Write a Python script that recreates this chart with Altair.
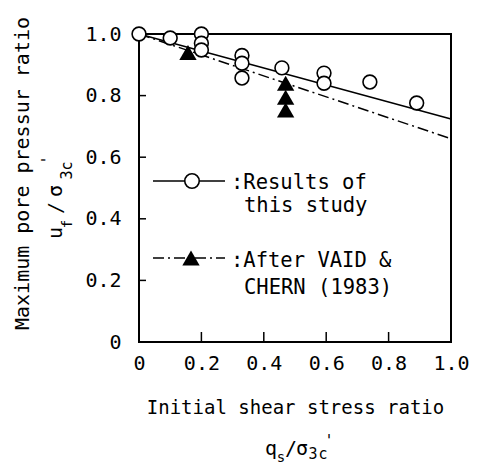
import altair as alt
import pandas as pd

FONT = "DejaVu Sans Mono"

# --- data ---
circle_x = [0.0, 0.1, 0.2, 0.2, 0.2, 0.33, 0.33, 0.33, 0.458, 0.593, 0.593, 0.74, 0.89]
circle_y = [1.0, 0.987, 1.0, 0.97, 0.948, 0.93, 0.905, 0.857, 0.89, 0.873, 0.84, 0.844, 0.776]
tri_x = [0.157, 0.47, 0.47, 0.47]
tri_y = [0.94, 0.84, 0.795, 0.753]
fit_x = [0.0, 1.0]
fit_this_study = [1.0, 0.724]
fit_vaid_chern = [1.0, 0.66]
tick_values = [0.0, 0.2, 0.4, 0.6, 0.8, 1.0]
inner_ticks = [0.2, 0.4, 0.6, 0.8]

W, H = 312, 308
xs = alt.Scale(domain=[0, 1], nice=False, zero=False)
ys = alt.Scale(domain=[0, 1], nice=False, zero=False)
label_expr = "datum.value == 0 ? '0' : format(datum.value, '.1f')"

xaxis = alt.Axis(values=tick_values, labelExpr=label_expr, title="Initial shear stress ratio",
                 ticks=False, domain=False, grid=False, labelPadding=11, labelFontSize=20,
                 labelFont=FONT, labelColor="black", labelFlush=False, labelOverlap=False,
                 titleFont=FONT, titleFontSize=19, titleFontWeight="normal", titleColor="black",
                 titleY=65, titleBaseline="middle")
yaxis = alt.Axis(values=tick_values, labelExpr=label_expr, title="Maximum pore pressur ratio",
                 ticks=False, domain=False, grid=False, labelPadding=18, labelFontSize=20,
                 labelFont=FONT, labelColor="black", labelFlush=False, labelOverlap=False,
                 titleFont=FONT, titleFontSize=20, titleFontWeight="normal", titleColor="black",
                 titleX=-117, titleY=139, titleAngle=270, titleBaseline="middle", titleAlign="center")

X = lambda: alt.X("x:Q", scale=xs, axis=xaxis)
Y = lambda: alt.Y("y:Q", scale=ys, axis=yaxis)

circles = pd.DataFrame({"x": circle_x, "y": circle_y})
tris = pd.DataFrame({"x": tri_x, "y": tri_y})
fit1 = pd.DataFrame({"x": fit_x, "y": fit_this_study})
fit2 = pd.DataFrame({"x": fit_x, "y": fit_vaid_chern})
xt = pd.DataFrame({"x": inner_ticks})
yt = pd.DataFrame({"y": inner_ticks})

DASHDOT = [11, 4, 2, 4]

line1 = alt.Chart(fit1).mark_line(color="black", strokeWidth=1.5).encode(x=X(), y=Y())
line2 = alt.Chart(fit2).mark_line(color="black", strokeWidth=1.5, strokeDash=DASHDOT).encode(x=X(), y=Y())
tri_layer = alt.Chart(tris).mark_point(shape="triangle-up", filled=True, color="black",
                                       size=300, opacity=1).encode(x=X(), y=Y())
circ_layer = alt.Chart(circles).mark_point(shape="circle", filled=True, fill="white", stroke="black",
                                           strokeWidth=1.6, size=190, opacity=1).encode(x=X(), y=Y())
xticks = alt.Chart(xt).mark_rule(color="black", strokeWidth=1.5).encode(
    x=X(), y=alt.value(H), y2=alt.value(H - 10))
yticks = alt.Chart(yt).mark_rule(color="black", strokeWidth=1.5).encode(
    y=Y(), x=alt.value(0), x2=alt.value(7))


def txt(s, x, y, size, angle=None, align="center", baseline="alphabetic"):
    kw = dict(font=FONT, fontSize=size, color="black", align=align, baseline=baseline)
    if angle is not None:
        kw["angle"] = angle
    return alt.Chart(pd.DataFrame({"t": [s]})).mark_text(**kw).encode(
        text="t:N", x=alt.value(x), y=alt.value(y))


def hline(x1, x2, y, dash=None):
    kw = dict(color="black", strokeWidth=1.5)
    if dash:
        kw["strokeDash"] = dash
    return alt.Chart(pd.DataFrame({"t": [0]})).mark_rule(**kw).encode(
        x=alt.value(x1), x2=alt.value(x2), y=alt.value(y))


def sym(shape, x, y, size, filled_black):
    if filled_black:
        m = alt.Chart(pd.DataFrame({"t": [0]})).mark_point(shape=shape, filled=True, color="black",
                                                          size=size, opacity=1)
    else:
        m = alt.Chart(pd.DataFrame({"t": [0]})).mark_point(shape=shape, filled=True, fill="white",
                                                          stroke="black", strokeWidth=1.6,
                                                          size=size, opacity=1)
    return m.encode(x=alt.value(x), y=alt.value(y))


# legend inside plot
legend = [
    hline(14, 86, 147),
    sym("circle", 53, 147, 210, False),
    txt(":Results of", 92, 155, 20.5, align="left"),
    txt("this study", 105, 178, 20.5, align="left"),
    hline(14, 86, 224, DASHDOT),
    sym("triangle-up", 52, 224, 300, True),
    txt(":After VAID &", 92, 233, 20.5, align="left"),
    txt("CHERN (1983)", 105, 260, 20.5, align="left"),
]

# second line of y title: u_f / sigma'_3c (rotated)
ysub = [
    txt("u", -83, 199, 20, angle=270, baseline="middle"),
    txt("f", -71, 190, 14, angle=270, baseline="middle"),
    txt("/", -83, 174, 20, angle=270, baseline="middle"),
    txt("σ", -83, 157, 20, angle=270, baseline="middle"),
    txt("3", -72, 141, 15, angle=270, baseline="middle"),
    txt("c", -72, 132, 15, angle=270, baseline="middle"),
    txt("'", -91, 126, 15, angle=270, baseline="middle"),
]

# second line of x title: q_s / sigma'_3c
xsub = [
    txt("q", 132, 421, 20),
    txt("s", 142, 428, 14),
    txt("/", 152, 421, 20),
    txt("σ", 163, 421, 20),
    txt("3", 174, 425, 15),
    txt("c", 184, 425, 15),
    txt("'", 190, 412, 15),
]

chart = alt.layer(
    line1, line2, xticks, yticks, tri_layer, circ_layer, *legend, *ysub, *xsub
).properties(
    width=W, height=H,
    autosize=alt.AutoSizeParams(type="none"),
    padding={"left": 139, "top": 34, "right": 36, "bottom": 125},
    background="white",
).configure_view(stroke="black", strokeWidth=2)

chart.save("out.html", embed_options={"renderer": "svg", "actions": False})
